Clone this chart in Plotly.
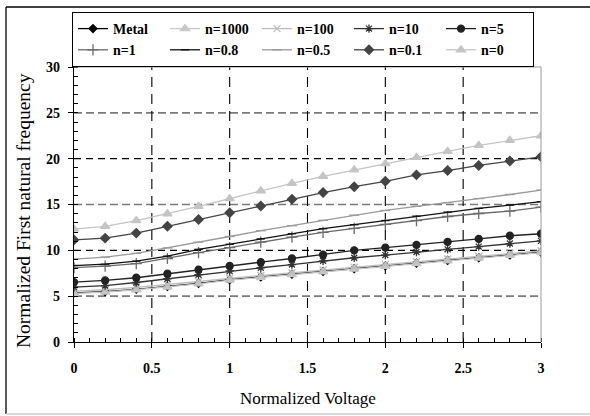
import plotly.graph_objects as go

# Normalized voltage (abscissa)
voltage = [0.0, 0.2, 0.4, 0.6, 0.8, 1.0, 1.2, 1.4, 1.6, 1.8, 2.0, 2.2, 2.4, 2.6, 2.8, 3.0]

# Normalized first natural frequency for each material case
metal = [5.35, 5.5, 5.75, 6.05, 6.4, 6.8, 7.1, 7.4, 7.7, 8.0, 8.3, 8.6, 8.9, 9.2, 9.5, 9.8]
n1000 = [5.3, 5.45, 5.7, 6.0, 6.35, 6.75, 7.05, 7.35, 7.65, 7.95, 8.25, 8.55, 8.85, 9.15, 9.45, 9.75]
n100 = [5.55, 5.7, 5.95, 6.25, 6.6, 6.95, 7.25, 7.55, 7.85, 8.15, 8.45, 8.75, 9.05, 9.35, 9.65, 9.95]
n10 = [5.98, 6.16, 6.49, 6.9, 7.34, 7.75, 8.1, 8.45, 8.86, 9.19, 9.48, 9.82, 10.11, 10.41, 10.74, 11.03]
n5 = [6.53, 6.72, 7.01, 7.45, 7.9, 8.3, 8.71, 9.11, 9.52, 10.0, 10.3, 10.59, 10.92, 11.25, 11.59, 11.81]
n1 = [8.12, 8.27, 8.56, 9.11, 9.74, 10.3, 10.89, 11.44, 11.96, 12.4, 12.84, 13.25, 13.69, 14.02, 14.28, 14.72]
n08 = [8.34, 8.49, 8.82, 9.37, 10.11, 10.66, 11.25, 11.81, 12.36, 12.8, 13.25, 13.73, 14.17, 14.58, 14.94, 15.31]
n05 = [9.04, 9.26, 9.67, 10.26, 10.89, 11.51, 12.14, 12.69, 13.28, 13.84, 14.35, 14.8, 15.2, 15.65, 16.09, 16.57]
n01 = [11.14, 11.33, 11.88, 12.62, 13.36, 14.1, 14.83, 15.57, 16.3, 16.94, 17.53, 18.23, 18.7, 19.26, 19.74, 20.2]
n0 = [12.32, 12.62, 13.25, 13.99, 14.8, 15.65, 16.5, 17.3, 18.08, 18.78, 19.45, 20.15, 20.8, 21.45, 22.0, 22.5]

x_ticks = [0, 0.5, 1, 1.5, 2, 2.5, 3]
x_tick_text = ["0", "0.5", "1", "1.5", "2", "2.5", "3"]
y_ticks = [0, 5, 10, 15, 20, 25, 30]

# (name, values, line colour, marker symbol, marker size, marker colour)
series = [
    ("Metal", metal, "#000000", "diamond", 6, "#000000"),
    ("n=1000", n1000, "#c8c8c8", "triangle-up", 8, "#c8c8c8"),
    ("n=100", n100, "#bdbdbd", "x-thin-open", 7, "#bdbdbd"),
    ("n=10", n10, "#333333", "asterisk-open", 7, "#333333"),
    ("n=5", n5, "#222222", "circle", 7, "#222222"),
    ("n=1", n1, "#6a6a6a", "cross-thin-open", 8, "#6a6a6a"),
    ("n=0.8", n08, "#111111", "line-ew-open", 6, "#111111"),
    ("n=0.5", n05, "#9a9a9a", "line-ew-open", 7, "#9a9a9a"),
    ("n=0.1", n01, "#444444", "diamond", 7, "#444444"),
    ("n=0", n0, "#c4c4c4", "triangle-up", 8, "#c4c4c4"),
]

fig = go.Figure()
for name, vals, lc, sym, size, mc in series:
    fig.add_trace(go.Scatter(
        x=voltage, y=vals, name=name, mode="lines+markers",
        line=dict(color=lc, width=1.3),
        marker=dict(symbol=sym, size=size, color=mc,
                    line=dict(color=mc, width=1.3)),
    ))

# Plot area in pixels: x 74..541, y 67..342
L, R, T, B = 74, 541, 67, 342
W, H = 590, 416

shapes = []
# horizontal grid: even multiples of 5 black, odd ones grey
for v in y_ticks[1:-1]:
    grey = (v // 5) % 2 == 1
    shapes.append(dict(type="line", xref="paper", yref="y", x0=0, x1=1, y0=v, y1=v,
                       line=dict(color="#7a7a7a" if grey else "#000000",
                                 width=1.6 if grey else 1.1,
                                 dash="8px,4px" if grey else "7px,5px"),
                       layer="below"))
# vertical grid
for v in x_ticks[1:-1]:
    shapes.append(dict(type="line", xref="x", yref="paper", x0=v, x1=v, y0=0, y1=1,
                       line=dict(color="#000000", width=1.1, dash="10px,7px"),
                       layer="below"))
# top and right edges of the plot area
shapes.append(dict(type="line", xref="paper", yref="paper", x0=0, x1=1, y0=1, y1=1,
                   line=dict(color="#9a9a9a", width=1)))
shapes.append(dict(type="line", xref="paper", yref="paper", x0=1, x1=1, y0=0, y1=1,
                   line=dict(color="#9a9a9a", width=1)))


def px_x(p):
    return (p - L) / (R - L)


def px_y(p):
    return (B - p) / (B - T)


# outer frame
shapes.append(dict(type="line", xref="paper", yref="paper",
                   x0=px_x(6), x1=px_x(6), y0=px_y(7), y1=px_y(414),
                   line=dict(color="#000000", width=1.3)))
shapes.append(dict(type="line", xref="paper", yref="paper",
                   x0=px_x(6), x1=px_x(590), y0=px_y(7), y1=px_y(7),
                   line=dict(color="#000000", width=1.3)))
shapes.append(dict(type="line", xref="paper", yref="paper",
                   x0=px_x(6), x1=px_x(590), y0=px_y(414), y1=px_y(414),
                   line=dict(color="#d0d0d0", width=1.3)))

bold_font = dict(family="Liberation Serif", size=14, color="#000000", weight="bold")

fig.update_layout(
    width=W, height=H,
    margin=dict(l=L, r=W - R, t=T, b=H - B),
    paper_bgcolor="white", plot_bgcolor="white",
    font=dict(family="Liberation Serif", color="#000000"),
    shapes=shapes,
    showlegend=True,
    legend=dict(
        orientation="h", x=px_x(72), y=px_y(12), xanchor="left", yanchor="top",
        bordercolor="#000000", borderwidth=1, bgcolor="white",
        font=bold_font,
        entrywidth=47, itemwidth=30, tracegroupgap=0,
    ),
    xaxis=dict(
        range=[0, 3], tickvals=x_ticks, ticktext=x_tick_text,
        showgrid=False, zeroline=False,
        showline=True, linecolor="#000000", linewidth=1.3,
        ticks="outside", ticklen=5, tickcolor="#000000", tickwidth=1.2,
        tickfont=bold_font, ticklabelstandoff=8,
        minor=dict(dtick=0.1, ticks="inside", ticklen=4, tickcolor="#000000",
                   tickwidth=1, showgrid=False),
        fixedrange=True,
    ),
    yaxis=dict(
        range=[0, 30], tickvals=y_ticks,
        showgrid=False, zeroline=False,
        showline=True, linecolor="#000000", linewidth=1.3,
        ticks="outside", ticklen=5, tickcolor="#000000", tickwidth=1.2,
        tickfont=bold_font, ticklabelstandoff=5,
        minor=dict(dtick=1, ticks="inside", ticklen=4, tickcolor="#000000",
                   tickwidth=1, showgrid=False),
        fixedrange=True,
    ),
    annotations=[
        dict(text="Normalized Voltage", xref="paper", yref="paper",
             x=0.5, y=px_y(398), xanchor="center", yanchor="middle",
             showarrow=False, font=dict(family="Liberation Serif", size=17)),
        dict(text="Normalized First natural frequency", xref="paper", yref="paper",
             x=px_x(23), y=px_y(211), xanchor="center", yanchor="middle",
             textangle=-90, showarrow=False,
             font=dict(family="Liberation Serif", size=19.5)),
    ],
)

fig.write_html("out.html")
